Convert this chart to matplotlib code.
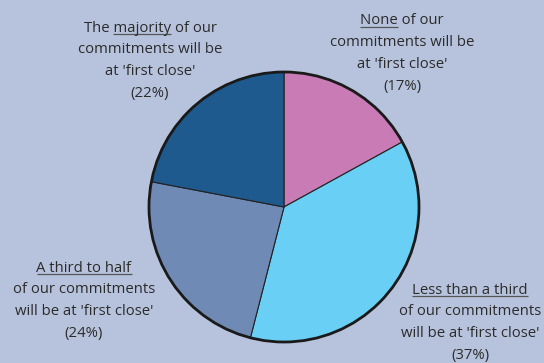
import matplotlib
matplotlib.use("Agg")
import matplotlib.pyplot as plt

# Share of commitments expected at 'first close'
categories = ["None", "Less than a third", "A third to half", "The majority"]
shares = [17, 37, 24, 22]
colors = ["#c87bb4", "#69cff5", "#6f8bb5", "#1f5a8e"]

# Label lines, with the underlined word in the first line given as (text before, word)
label_lines = [
    ["None of our", "commitments will be", "at 'first close'", "(17%)"],
    ["Less than a third", "of our commitments", "will be at 'first close'", "(37%)"],
    ["A third to half", "of our commitments", "will be at 'first close'", "(24%)"],
    ["The majority of our", "commitments will be", "at 'first close'", "(22%)"],
]
underlined = [("", "None"), ("", "Less than a third"), ("", "A third to half"), ("The ", "majority")]
label_pos = [(402, 21), (470, 290), (84, 268), (150, 28)]  # top line centre, pixels from top-left

W, H = 544, 363
BG = "#b7c3dc"
TXT = "#2b2b2b"

fig = plt.figure(figsize=(W / 100, H / 100), dpi=100, facecolor=BG)
ax = fig.add_axes([0, 0, 1, 1])

cx, cy, r = 284, H - 207, 135
ax.pie(shares, colors=colors, startangle=90, counterclock=False,
       center=(cx, cy), radius=r, frame=True,
       wedgeprops=dict(edgecolor="#222222", linewidth=0.8))
ax.set_xlim(0, W)
ax.set_ylim(0, H)
ax.set_aspect("equal")
ax.axis("off")
ax.add_patch(plt.Circle((cx, cy), r, fill=False, edgecolor="#1a1a1a", linewidth=2.0))

font = dict(family="Open Sans", size=10.7, color=TXT)
line_h = 21.7
renderer = fig.canvas.get_renderer()


def text_width(s):
    if not s:
        return 0.0
    tmp = ax.text(0, 0, s, **font)
    w = tmp.get_window_extent(renderer).width
    tmp.remove()
    return w


for lines, (pre, word), (px, py) in zip(label_lines, underlined, label_pos):
    for i, line in enumerate(lines):
        y = H - (py + i * line_h)
        t = ax.text(px, y, line, ha="center", va="center", **font)
        if i == 0:
            full = t.get_window_extent(renderer)
            x0 = full.x0 + text_width(pre)
            x1 = full.x0 + text_width(pre + word)
            yb = full.y0 + 2.0
            ax.plot([x0, x1], [yb, yb], color="#555555", linewidth=0.9,
                    solid_capstyle="butt")

fig.savefig("out.png", dpi=100, facecolor=BG)
